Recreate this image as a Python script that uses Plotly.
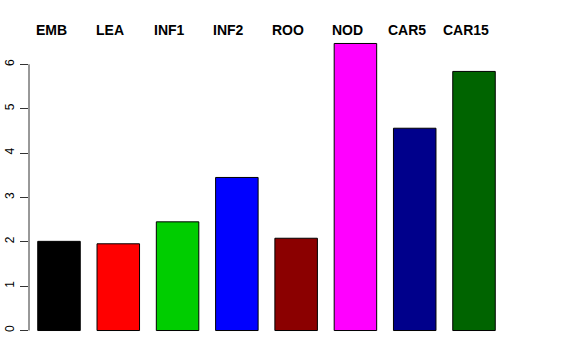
import plotly.graph_objects as go

categories = ["EMB", "LEA", "INF1", "INF2", "ROO", "NOD", "CAR5", "CAR15"]
values = [2.01, 1.955, 2.45, 3.45, 2.08, 6.47, 4.56, 5.84]
colors = ["#000000", "#FF0000", "#00CD00", "#0000FF", "#8B0000", "#FF00FF", "#00008B", "#006400"]
y_ticks = [0, 1, 2, 3, 4, 5, 6]

xpos = list(range(len(categories)))
ymax = max(values)

W, H = 576, 360
ML, MT = 29, 31.5
PW, PH = 475, 311
MR, MB = W - ML - PW, H - MT - PH

fig = go.Figure()
fig.add_trace(go.Bar(
    x=xpos, y=values, width=0.717,
    marker=dict(color=colors, line=dict(color="#000000", width=1)),
    showlegend=False, hoverinfo="skip",
))

label_y = (H - MB - 29) / PH
for xi, name in zip(xpos, categories):
    fig.add_annotation(
        x=xi, xref="x", y=label_y, yref="paper", yanchor="middle",
        text="<b>%s</b>" % name, showarrow=False, xanchor="center",
        xshift=-8, font=dict(size=14, color="#000000"),
    )

fig.update_layout(
    width=W, height=H,
    margin=dict(l=ML, r=MR, t=MT, b=MB, autoexpand=False),
    paper_bgcolor="white", plot_bgcolor="white",
    font=dict(family="Liberation Sans, Arial, sans-serif", color="#000000"),
    xaxis=dict(range=[-0.506, 7.506], showticklabels=False, showgrid=False,
               zeroline=False, showline=False, ticks="", automargin=False),
    yaxis=dict(range=[-0.04 * ymax, 1.04 * ymax], tickvals=y_ticks,
               ticktext=[str(t) for t in y_ticks], tickangle=-90,
               ticks="outside", ticklen=8, tickcolor="#333333", tickwidth=1,
               showgrid=False, zeroline=False, showline=False, automargin=False,
               ticklabelstandoff=1,
               tickfont=dict(size=12, color="#000000")),
)

fig.add_shape(type="line", xref="paper", x0=0, x1=0, yref="y",
              y0=y_ticks[0], y1=y_ticks[-1], line=dict(color="#333333", width=1))

fig.write_html("out.html", config={"displayModeBar": False},
               post_script="document.body.style.margin='0';document.body.style.padding='0';")
